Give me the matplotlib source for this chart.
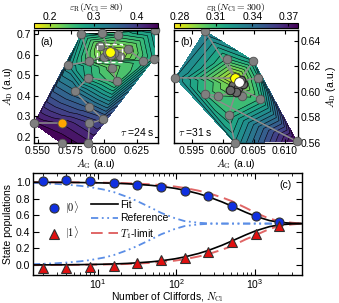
import numpy as np
import matplotlib
matplotlib.use("Agg")
import matplotlib.pyplot as plt
import matplotlib.tri as mtri
from matplotlib import colors, cm

plt.rcParams["font.family"] = ["Liberation Sans", "DejaVu Sans"]
plt.rcParams["mathtext.fontset"] = "cm"
plt.rcParams["font.size"] = 7.5
plt.rcParams["xtick.direction"] = "in"
plt.rcParams["ytick.direction"] = "in"
plt.rcParams["xtick.top"] = True
plt.rcParams["ytick.right"] = True
plt.rcParams["axes.linewidth"] = 1.0

# ---- panel (a): scan at N_Cl = 80, tau = 24 s
a_ag = [0.547, 0.568, 0.568, 0.588, 0.589, 0.5995, 0.589, 0.578, 0.588, 0.6096,
        0.573, 0.589, 0.583, 0.6386, 0.638, 0.630, 0.6058, 0.5985, 0.611, 0.618,
        0.597, 0.612, 0.600, 0.603, 0.607, 0.602, 0.608, 0.605, 0.6045]
a_ad = [0.265, 0.265, 0.168, 0.168, 0.265, 0.285, 0.347, 0.421, 0.487, 0.470,
        0.549, 0.568, 0.700, 0.718, 0.580, 0.568, 0.536, 0.705, 0.695, 0.626,
        0.641, 0.592, 0.587, 0.605, 0.615, 0.614, 0.606, 0.600, 0.611]
a_eps = [0.44, 0.425, 0.45, 0.43, 0.40, 0.38, 0.36, 0.34, 0.27, 0.24,
         0.30, 0.24, 0.29, 0.30, 0.28, 0.26, 0.23, 0.25, 0.26, 0.21,
         0.21, 0.20, 0.20, 0.19, 0.19, 0.20, 0.20, 0.20, 0.17]
a_edges = [(0, 1), (3, 4), (4, 5), (5, 6), (6, 7), (7, 8), (8, 9), (9, 16),
           (10, 11), (12, 11), (11, 28), (16, 28), (15, 14), (15, 19), (19, 28),
           (17, 28), (18, 28), (20, 28), (21, 28), (22, 28), (23, 28), (24, 28),
           (25, 28), (26, 28), (27, 28)]
a_start = 1
a_best = 28

# ---- panel (b): scan at N_Cl = 300, tau = 31 s
b_ag = [0.5971, 0.5923, 0.6019, 0.6119, 0.6049, 0.6057, 0.6006, 0.5971, 0.5992,
        0.6009, 0.6060, 0.6030, 0.6016, 0.6024, 0.6032, 0.6021, 0.6011, 0.6029,
        0.6019, 0.6026]
b_ad = [0.6478, 0.6111, 0.5603, 0.5613, 0.6244, 0.6113, 0.6262, 0.5983, 0.5970,
        0.5821, 0.5947, 0.5972, 0.6056, 0.6033, 0.6064, 0.6001, 0.6017, 0.6095,
        0.6108, 0.6082]
b_eps = [0.335, 0.33, 0.325, 0.378, 0.32, 0.315, 0.31, 0.31, 0.305,
         0.31, 0.31, 0.30, 0.292, 0.295, 0.293, 0.298, 0.297, 0.29,
         0.28, 0.285]
b_edges = [(0, 7), (0, 18), (1, 18), (7, 3), (7, 8), (6, 18), (4, 19), (5, 19),
           (8, 15), (9, 15), (10, 13), (11, 13), (9, 2), (12, 18), (13, 19),
           (14, 19), (16, 12), (17, 18)]
b_best = 18
b_final = 19

# ---- panel (c): randomized benchmarking
n_cl = [2, 4, 8, 16, 32, 64, 128, 256, 512, 1024, 2048]
pop0 = [1.01, 1.02, 1.01, 0.99, 0.96, 0.94, 0.89, 0.83, 0.71, 0.59, 0.52]
pop1 = [-0.03, -0.03, -0.02, -0.01, 0.02, 0.06, 0.09, 0.16, 0.28, 0.38, 0.47]

n_line = [1.5, 2, 3, 4, 6, 8, 12, 16, 24, 32, 48, 64, 96, 128, 192, 256, 384,
          512, 768, 1024, 1536, 2048, 3000, 4000]
fit0 = [0.999, 0.998, 0.997, 0.997, 0.995, 0.993, 0.990, 0.987, 0.980, 0.973,
        0.961, 0.949, 0.925, 0.902, 0.861, 0.824, 0.761, 0.710, 0.636, 0.588,
        0.537, 0.516, 0.503, 0.501]
fit1 = [0.001, 0.002, 0.003, 0.003, 0.005, 0.007, 0.010, 0.013, 0.020, 0.027,
        0.039, 0.051, 0.075, 0.098, 0.139, 0.176, 0.239, 0.290, 0.364, 0.412,
        0.463, 0.484, 0.497, 0.499]
ref0 = [0.99, 0.985, 0.978, 0.97, 0.955, 0.94, 0.91, 0.88, 0.82, 0.77, 0.69,
        0.63, 0.565, 0.53, 0.51, 0.503, 0.50, 0.50, 0.50, 0.50, 0.50, 0.50,
        0.50, 0.50]
ref1 = [0.01, 0.015, 0.022, 0.03, 0.045, 0.06, 0.09, 0.12, 0.18, 0.23, 0.31,
        0.37, 0.435, 0.47, 0.49, 0.497, 0.50, 0.50, 0.50, 0.50, 0.50, 0.50,
        0.50, 0.50]
t1_0 = [0.999, 0.999, 0.998, 0.998, 0.997, 0.996, 0.993, 0.991, 0.987, 0.982,
        0.973, 0.964, 0.947, 0.930, 0.897, 0.868, 0.815, 0.770, 0.690, 0.630,
        0.560, 0.530, 0.510, 0.500]
t1_1 = [0.001, 0.001, 0.002, 0.002, 0.003, 0.004, 0.007, 0.009, 0.013, 0.018,
        0.027, 0.036, 0.053, 0.070, 0.103, 0.132, 0.185, 0.230, 0.310, 0.360,
        0.435, 0.470, 0.490, 0.500]

W, H = 339, 303
fig = plt.figure(figsize=(W / 100, H / 100), dpi=100)


def box(x0, y0, x1, y1):
    return [x0 / W, 1 - y1 / H, (x1 - x0) / W, (y1 - y0) / H]


ax_a = fig.add_axes(box(34, 30, 158, 143))
ax_b = fig.add_axes(box(174, 30, 298, 143))
cax_a = fig.add_axes(box(34, 23, 158, 27.5))
cax_b = fig.add_axes(box(174, 23, 298, 27.5))
ax_c = fig.add_axes(box(33, 173, 302, 275))

gray_line = "#8c8c8c"
gray_pt = "#7f7f7f"


def scan_panel(ax, cax, ag, ad, eps, edges, vmin, vmax, step, label, ticks):
    ag = np.array(ag)
    ad = np.array(ad)
    eps = np.array(eps)
    norm = colors.Normalize(vmin=vmin, vmax=vmax)
    tri = mtri.Triangulation(ag, ad)
    levels = np.arange(vmin - step, vmax + 2 * step, step)
    ax.tricontourf(tri, eps, levels=levels, cmap="viridis_r", norm=norm)
    ax.tricontour(tri, eps, levels=levels, colors="k", linewidths=0.4)
    for i, j in edges:
        ax.plot([ag[i], ag[j]], [ad[i], ad[j]], color=gray_line, lw=1.1, zorder=3)
    ax.plot(ag, ad, "o", ms=6.2, mfc=gray_pt, mec="#505050", mew=0.6, zorder=4,
            clip_on=False)
    sm = cm.ScalarMappable(norm=norm, cmap="viridis_r")
    cb = fig.colorbar(sm, cax=cax, orientation="horizontal", ticks=ticks)
    cax.xaxis.set_ticks_position("top")
    cax.tick_params(direction="in", length=2.5, pad=0.5, labelsize=7.5)
    cb.outline.set_linewidth(0.8)
    pos = cax.get_position()
    fig.text((pos.x0 + pos.x1) / 2, 1 - 7 / H, label, ha="center", va="center",
             fontsize=7)
    return ag, ad


ag, ad = scan_panel(ax_a, cax_a, a_ag, a_ad, a_eps, a_edges, 0.163, 0.448, 0.0125,
                    r"$\varepsilon_\mathrm{R}(N_\mathrm{Cl}=80)$", [0.2, 0.3, 0.4])
ax_a.plot(ag[a_start], ad[a_start], "o", ms=6.5, mfc="#ffa500", mec="#505050",
          mew=0.6, zorder=5)
ax_a.plot(ag[a_best], ad[a_best], "o", ms=7, mfc="#ffff00", mec="#505050",
          mew=0.6, zorder=6)
ax_a.add_patch(plt.Rectangle((0.5945, 0.562), 0.0195, 0.088, fill=False,
                             ec="white", lw=1.0, ls=(0, (3, 2)), zorder=7))
ax_a.set_xlim(0.547, 0.641)
ax_a.set_ylim(0.17, 0.72)
ax_a.set_xticks([0.550, 0.575, 0.600, 0.625])
ax_a.set_yticks([0.2, 0.3, 0.4, 0.5, 0.6, 0.7])
ax_a.set_xlabel(r"$A_\mathrm{G}$ (a.u)", labelpad=1)
ax_a.set_ylabel(r"$A_\mathrm{D}$ (a.u)", labelpad=1)
ax_a.tick_params(length=3, pad=2)
ax_a.text(0.05, 0.94, "(a)", transform=ax_a.transAxes, ha="left", va="top")
ax_a.text(0.97, 0.04, r"$\tau$ =24 s", transform=ax_a.transAxes, ha="right",
          va="bottom", bbox=dict(fc="white", ec="none", pad=0.5), zorder=8)

bg, bd = scan_panel(ax_b, cax_b, b_ag, b_ad, b_eps, b_edges, 0.275, 0.378, 0.005,
                    r"$\varepsilon_\mathrm{R}(N_\mathrm{Cl}=300)$",
                    [0.28, 0.31, 0.34, 0.37])
ax_b.plot(bg[12:18], bd[12:18], "o", ms=6.2, mfc="#6a6a6a", mec="#202020",
          mew=0.8, zorder=5)
ax_b.plot(bg[b_best], bd[b_best], "o", ms=7, mfc="#ffff00", mec="#303030",
          mew=0.6, zorder=6)
ax_b.plot(bg[b_final], bd[b_final], "o", ms=7, mfc="white", mec="#303030",
          mew=0.6, zorder=7)
ax_b.set_xlim(0.5921, 0.6121)
ax_b.set_ylim(0.56, 0.6486)
ax_b.set_xticks([0.595, 0.600, 0.605, 0.610])
ax_b.set_yticks([0.56, 0.58, 0.60, 0.62, 0.64])
ax_b.yaxis.tick_right()
ax_b.yaxis.set_label_position("right")
ax_b.tick_params(length=3, pad=2, left=True)
ax_b.set_xlabel(r"$A_\mathrm{G}$ (a.u)", labelpad=1)
ax_b.set_ylabel(r"$A_\mathrm{D}$ (a.u.)", labelpad=2)
ax_b.text(0.05, 0.94, "(b)", transform=ax_b.transAxes, ha="left", va="top")
ax_b.text(0.03, 0.04, r"$\tau$ =31 s", transform=ax_b.transAxes, ha="left",
          va="bottom", bbox=dict(fc="white", ec="none", pad=0.5), zorder=8)

# ---- panel (c)
blue_ref = "#5b8ee6"
red_t1 = "#e06666"
hr, = ax_c.plot(n_line, ref0, color=blue_ref, lw=1.3, ls=(0, (4, 2, 1, 2, 1, 2)))
ax_c.plot(n_line, ref1, color=blue_ref, lw=1.3, ls=(0, (4, 2, 1, 2, 1, 2)))
ht, = ax_c.plot(n_line, t1_0, color=red_t1, lw=1.4, ls=(0, (6, 3)))
ax_c.plot(n_line, t1_1, color=red_t1, lw=1.4, ls=(0, (6, 3)))
hf, = ax_c.plot(n_line, fit0, color="k", lw=1.2)
ax_c.plot(n_line, fit1, color="k", lw=1.2)
h0, = ax_c.plot(n_cl, pop0, "o", ms=6.5, mfc="#1030e0", mec="#303030", mew=0.8,
                zorder=5)
h1, = ax_c.plot(n_cl, pop1, "^", ms=6.5, mfc="#e01010", mec="#303030", mew=0.8,
                zorder=5)
ax_c.set_xscale("log")
ax_c.set_xlim(1.5, 4000)
ax_c.set_ylim(-0.12, 1.11)
ax_c.set_yticks([0.0, 0.2, 0.4, 0.6, 0.8, 1.0])
ax_c.tick_params(which="major", length=4, pad=2)
ax_c.tick_params(axis="x", which="major", pad=1.5)
ax_c.tick_params(which="minor", length=2)
ax_c.set_xlabel(r"Number of Cliffords, $N_\mathrm{Cl}$", labelpad=0)
ax_c.set_ylabel("State populations", labelpad=2)
ax_c.text(0.96, 0.93, "(c)", transform=ax_c.transAxes, ha="right", va="top")

leg1 = ax_c.legend([h0, h1], [r"$|0\rangle$", r"$|1\rangle$"], loc="upper left",
                   bbox_to_anchor=(0.06, 0.74), frameon=False, handlelength=1.0,
                   handletextpad=0.5, labelspacing=0.85, borderpad=0,
                   borderaxespad=0, fontsize=7.5)
ax_c.add_artist(leg1)
ax_c.legend([hf, hr, ht], ["Fit", "Reference", r"$T_1$-limit"], loc="upper left",
            bbox_to_anchor=(0.215, 0.74), frameon=False, handlelength=2.6,
            handletextpad=0.2, labelspacing=0.35, borderpad=0, borderaxespad=0,
            fontsize=7.5)

fig.savefig("out.png", dpi=100)
